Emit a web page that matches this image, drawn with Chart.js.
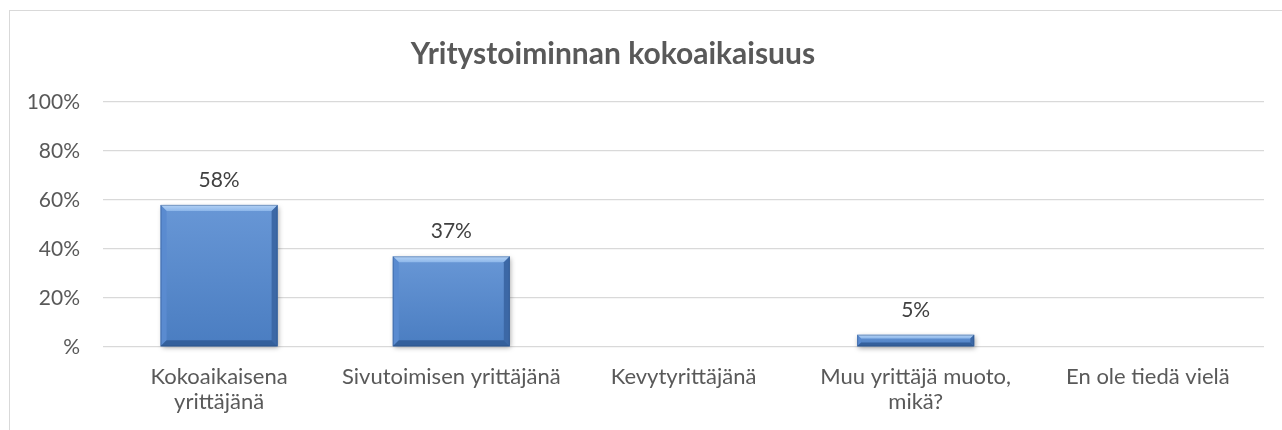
<!DOCTYPE html>
<html>
<head>
<meta charset="utf-8">
<script src="https://cdn.jsdelivr.net/npm/chart.js@4.4.1/dist/chart.umd.min.js"></script>
<style>
  html, body { margin: 0; padding: 0; background: #ffffff; }
  #wrap { position: relative; width: 1282px; height: 430px; overflow: hidden; }
  #frame { position: absolute; left: 9px; top: 10px; width: 1400px; height: 500px;
           border-left: 1px solid #d9d9d9; border-top: 1px solid #d9d9d9; }
  canvas { position: absolute; left: 0; top: 0; }
</style>
</head>
<body>
<div id="wrap">
  <div id="frame"></div>
  <canvas id="c" width="1282" height="430"></canvas>
</div>
<script>
const chartTitle = "Yritystoiminnan kokoaikaisuus";
const categories = [
  ["Kokoaikaisena", "yrittäjänä"],
  "Sivutoimisen yrittäjänä",
  "Kevytyrittäjänä",
  ["Muu yrittäjä muoto,", "mikä?"],
  "En ole tiedä vielä"
];
const values = [58, 37, 0, 5, 0];
const yTicks = [0, 20, 40, 60, 80, 100];
const yTickLabels = ["%", "20%", "40%", "60%", "80%", "100%"];

const FONT = "Lato, 'Open Sans', sans-serif";

const bevelPlugin = {
  id: 'bevel',
  afterDatasetsDraw(chart) {
    const ctx = chart.ctx;
    const meta = chart.getDatasetMeta(0);
    meta.data.forEach((bar, i) => {
      if (!values[i]) return;
      const p = bar.getProps(['x', 'y', 'base', 'width'], true);
      const l = p.x - p.width / 2, r = p.x + p.width / 2;
      const t = Math.min(p.y, p.base), b = Math.max(p.y, p.base);
      const h = b - t;
      const bv = Math.min(6, h / 3);
      ctx.save();
      ctx.shadowColor = 'rgba(0,0,0,0.35)';
      ctx.shadowBlur = 5;
      ctx.shadowOffsetX = 1;
      ctx.shadowOffsetY = 2;
      const g = ctx.createLinearGradient(0, t, 0, b);
      g.addColorStop(0, '#6897d6');
      g.addColorStop(1, '#4a7dc1');
      ctx.fillStyle = g;
      ctx.fillRect(l, t, r - l, h);
      ctx.restore();
      ctx.save();
      const gt = ctx.createLinearGradient(0, t, 0, t + bv);
      gt.addColorStop(0, '#b4d2f5');
      gt.addColorStop(1, '#8db7ea');
      ctx.fillStyle = gt;
      ctx.beginPath();
      ctx.moveTo(l, t); ctx.lineTo(r, t); ctx.lineTo(r - bv, t + bv); ctx.lineTo(l + bv, t + bv); ctx.closePath();
      ctx.fill();
      ctx.fillStyle = '#5a8bd0';
      ctx.beginPath();
      ctx.moveTo(l, t); ctx.lineTo(l + bv, t + bv); ctx.lineTo(l + bv, b - bv); ctx.lineTo(l, b); ctx.closePath();
      ctx.fill();
      ctx.fillStyle = '#3c68a6';
      ctx.beginPath();
      ctx.moveTo(r, t); ctx.lineTo(r - bv, t + bv); ctx.lineTo(r - bv, b - bv); ctx.lineTo(r, b); ctx.closePath();
      ctx.fill();
      ctx.fillStyle = '#34609c';
      ctx.beginPath();
      ctx.moveTo(l, b); ctx.lineTo(r, b); ctx.lineTo(r - bv, b - bv); ctx.lineTo(l + bv, b - bv); ctx.closePath();
      ctx.fill();
      ctx.strokeStyle = 'rgba(40,75,125,0.4)';
      ctx.lineWidth = 1;
      ctx.strokeRect(l + 0.5, t + 0.5, r - l - 1, h - 1);
      ctx.restore();
    });
  }
};

const labelPlugin = {
  id: 'valueLabels',
  afterDraw(chart) {
    const ctx = chart.ctx;
    const meta = chart.getDatasetMeta(0);
    ctx.save();
    ctx.font = "21px " + FONT;
    ctx.fillStyle = '#404040';
    ctx.textAlign = 'center';
    ctx.textBaseline = 'alphabetic';
    meta.data.forEach((bar, i) => {
      if (!values[i]) return;
      const p = bar.getProps(['x', 'y'], true);
      ctx.fillText(values[i] + '%', p.x, p.y - 18);
    });
    ctx.font = "bold 30px " + FONT;
    ctx.fillStyle = '#595959';
    ctx.fillText(chartTitle, 613, 64);
    ctx.restore();
  }
};

new Chart(document.getElementById('c'), {
  type: 'bar',
  data: {
    labels: categories,
    datasets: [{
      data: values,
      backgroundColor: 'rgba(0,0,0,0)',
      borderWidth: 0,
      barPercentage: 0.504,
      categoryPercentage: 1.0
    }]
  },
  options: {
    responsive: false,
    animation: false,
    events: [],
    layout: { padding: { left: 0, right: 18, top: 102, bottom: 0 } },
    plugins: { legend: { display: false }, tooltip: { enabled: false }, title: { display: false } },
    scales: {
      x: {
        grid: { display: false, drawTicks: false },
        border: { display: false },
        ticks: {
          color: '#595959',
          font: { family: FONT, size: 22, lineHeight: 1.14 },
          padding: 17,
          maxRotation: 0,
          autoSkip: false
        },
        afterFit(s) { s.height = 83; }
      },
      y: {
        min: 0,
        max: 100,
        grid: { color: '#d9d9d9', lineWidth: 1.3, drawTicks: false },
        border: { display: false },
        afterBuildTicks(s) { s.ticks = yTicks.map(v => ({ value: v })); },
        ticks: {
          color: '#595959',
          font: { family: FONT, size: 21 },
          padding: 23,
          callback(v) { const i = yTicks.indexOf(v); return i >= 0 ? yTickLabels[i] : ''; }
        },
        afterFit(s) { s.width = 103; }
      }
    }
  },
  plugins: [bevelPlugin, labelPlugin]
});
</script>
</body>
</html>
